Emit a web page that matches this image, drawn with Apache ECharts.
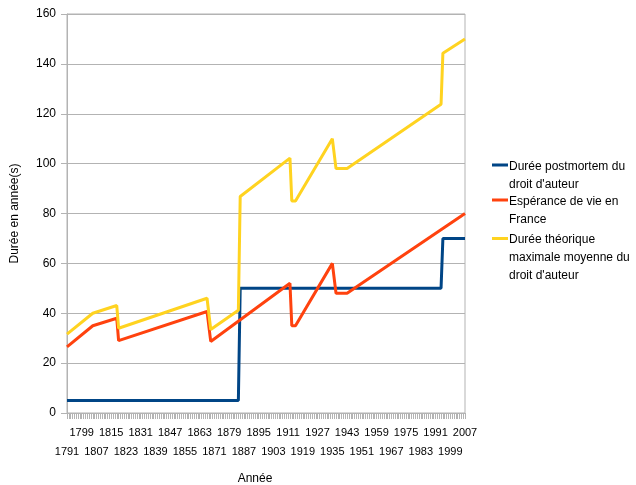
<!DOCTYPE html>
<html>
<head>
<meta charset="utf-8">
<script src="https://cdn.jsdelivr.net/npm/echarts@6/dist/echarts.min.js"></script>
<style>html,body{margin:0;padding:0;background:#fff}#c{width:636px;height:485px}</style>
</head>
<body>
<div id="c"></div>
<script>
// Breakpoints: [year, value]
var seriesNames = ["Durée postmortem du droit d'auteur", "Espérance de vie en France", "Durée théorique maximale moyenne du droit d'auteur"];
var legendLabels = ["Durée postmortem du\ndroit d'auteur", "Espérance de vie en\nFrance", "Durée théorique\nmaximale moyenne du\ndroit d'auteur"];
var postmortem = [[1791, 5], [1884, 5], [1885, 50], [1994, 50], [1995, 70], [2007, 70]];
var lifeExpectancy = [[1791, 26.5], [1805, 35], [1818, 38], [1819, 29], [1867, 40.7], [1869, 28.7], [1912, 52], [1913, 35], [1915, 35], [1935, 60], [1937, 48], [1943, 48], [2007, 80]];
var maxDuration = [[1791, 31.6], [1805, 40], [1818, 43.1], [1819, 34], [1867, 46], [1869, 33.5], [1884, 41.2], [1885, 86.8], [1912, 102.2], [1913, 85], [1915, 85], [1935, 110], [1937, 98], [1943, 98], [1994, 123.8], [1995, 144.3], [2007, 150]];
var yearMin = 1791, yearMax = 2007, labelStep = 8;
var yMin = 0, yMax = 160, yStep = 20;
var colors = ['#004586', '#ff420e', '#ffd320'];

var chart = echarts.init(document.getElementById('c'), null, {renderer: 'canvas'});
var font = 'Liberation Sans';
var gray = '#b3b3b3';

function legendFor(i, top) {
  var lines = legendLabels[i].split('\n').length;
  var h = lines * 18;
  // line marker near the first text line; tiny dots pin the icon box to the text block height
  var icon = 'path://M0,0h0.01v0.01h-0.01z M0,6h16v3h-16z M0,' + (h - 0.01) + 'h0.01v0.01h-0.01z';
  return {
    show: true, orient: 'vertical', left: 492, top: top, padding: 0,
    itemWidth: 16, itemHeight: h, icon: icon,
    data: [{name: seriesNames[i]}],
    formatter: function () { return legendLabels[i]; },
    textStyle: {fontFamily: font, fontSize: 12, color: '#000', lineHeight: 18, padding: [0, 0, 0, -4]},
    selectedMode: false
  };
}

chart.setOption({
  animation: false,
  color: colors,
  grid: {left: 67, right: 171, top: 14, bottom: 72, show: true, borderColor: gray, borderWidth: 1, outerBoundsMode: 'none', containLabel: false},
  legend: [legendFor(0, 157.5), legendFor(1, 192.5), legendFor(2, 231)],
  xAxis: {
    type: 'value', min: yearMin, max: yearMax, interval: 1,
    name: 'Année', nameLocation: 'middle', nameGap: 60,
    nameTextStyle: {fontFamily: font, fontSize: 12, color: '#000', padding: [0, 22, 0, 0]},
    axisLine: {show: true, lineStyle: {color: gray}},
    axisTick: {show: true, length: 6, lineStyle: {color: gray}},
    splitLine: {show: false},
    axisLabel: {
      show: true, margin: 10, lineHeight: 19, fontFamily: font, fontSize: 11, color: '#000',
      showMinLabel: true, showMaxLabel: true, hideOverlap: false,
      formatter: function (v) {
        var k = Math.round(v - yearMin);
        if (k % labelStep !== 0) return '';
        return (k / labelStep) % 2 === 0 ? '\n' + v : String(v);
      }
    }
  },
  yAxis: {
    type: 'value', min: yMin, max: yMax, interval: yStep,
    name: 'Durée en année(s)', nameLocation: 'middle', nameGap: 46,
    nameTextStyle: {fontFamily: font, fontSize: 12, color: '#000'},
    axisLine: {show: true, lineStyle: {color: gray}},
    axisTick: {show: true, length: 6, lineStyle: {color: gray}},
    splitLine: {show: true, lineStyle: {color: gray}},
    axisLabel: {margin: 11, fontFamily: font, fontSize: 12, color: '#000'}
  },
  series: [
    {name: seriesNames[0], type: 'line', data: postmortem, symbol: 'none', lineStyle: {width: 3, color: colors[0]}},
    {name: seriesNames[1], type: 'line', data: lifeExpectancy, symbol: 'none', lineStyle: {width: 3, color: colors[1]}},
    {name: seriesNames[2], type: 'line', data: maxDuration, symbol: 'none', lineStyle: {width: 3, color: colors[2]}}
  ]
});
</script>
</body>
</html>
